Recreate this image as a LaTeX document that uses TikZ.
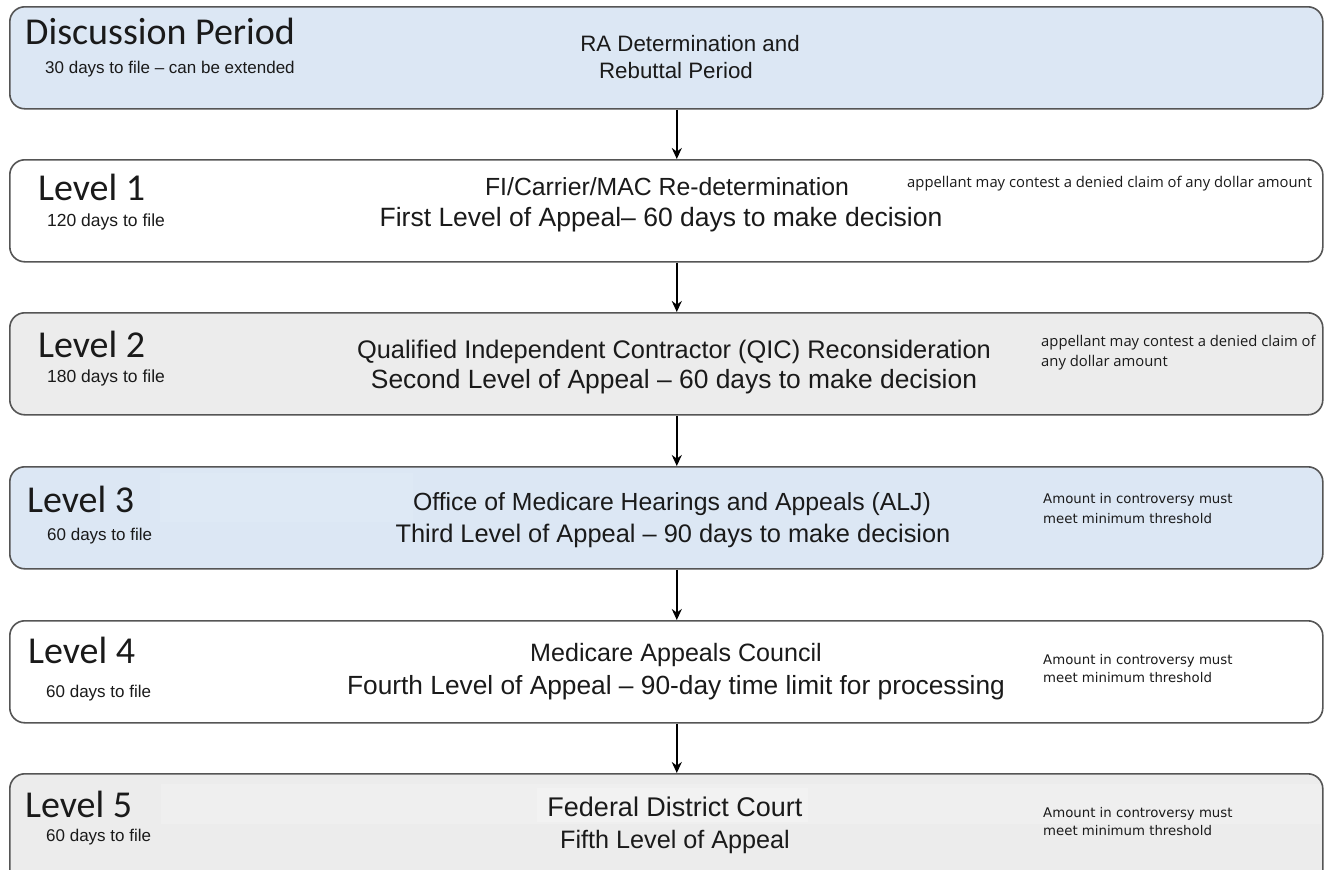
\documentclass[tikz,border=0pt]{standalone}
\usepackage{fontspec}
\setmainfont{Liberation Sans}
\newfontfamily\calfont{Carlito}
\newfontfamily\osfont{Open Sans}
\newfontfamily\dvfont{DejaVu Sans}
\usetikzlibrary{arrows.meta}
\definecolor{boxblue}{HTML}{DCE7F4}
\definecolor{patchblue}{HTML}{DEE9F5}
\definecolor{boxgray}{HTML}{ECECEC}
\definecolor{patchgray}{HTML}{EFEFEF}
\definecolor{patchlight}{HTML}{F2F2F2}
\definecolor{edgegray}{HTML}{555555}
\definecolor{txt}{HTML}{1A1A1A}
\newcommand{\fs}[1]{\fontsize{#1}{#1}\selectfont}
\tikzset{
  stage/.style={draw=edgegray, line width=1.6pt, rounded corners=15pt, minimum width=1313pt, minimum height=102pt, anchor=north west, inner sep=0pt},
  flow/.style={line width=2.4pt, -{Stealth[length=11pt,width=10pt]}},
  lvl/.style={anchor=base west, inner sep=0pt, text=txt, font=\calfont\fs{38}},
  due/.style={anchor=base west, inner sep=0pt, text=txt, font=\fs{17}},
  main/.style={anchor=base, inner sep=0pt, text=txt, font=\fs{25}},
  noteA/.style={anchor=base west, inner sep=0pt, text=txt, font=\osfont\fs{14.8}},
  noteB/.style={anchor=base west, inner sep=0pt, text=txt, font=\dvfont\fs{13.3}},
}
\begin{document}
\begin{tikzpicture}[x=1pt,y=-1pt]
\useasboundingbox (0,0) rectangle (1326,870);
\clip (0,0) rectangle (1326,870);
% boxes
\node[stage, fill=boxblue] (b0) at (9,6) {};
\node[stage, fill=white] (b1) at (9,159) {};
\node[stage, fill=boxgray] (b2) at (9,312) {};
\node[stage, fill=boxblue] (b3) at (9,466) {};
\node[stage, fill=white] (b4) at (9,620) {};
\node[stage, fill=boxgray, minimum height=130pt] (b5) at (9,773) {};
% faint patches
\fill[patchblue] (160,473) rectangle (413,522);
\fill[patchgray] (161,784) rectangle (1321,824);
\fill[patchlight] (537,788) rectangle (808,822);
% arrows
\draw[flow] ([xshift=10.5pt]b0.south) -- ([xshift=10.5pt]b1.north);
\draw[flow] ([xshift=10.5pt]b1.south) -- ([xshift=10.5pt]b2.north);
\draw[flow] ([xshift=10.5pt]b2.south) -- ([xshift=10.5pt]b3.north);
\draw[flow] ([xshift=10.5pt]b3.south) -- ([xshift=10.5pt]b4.north);
\draw[flow] ([xshift=10.5pt]b4.south) -- ([xshift=10.5pt]b5.north);
% box 0
\node[lvl] (t0) at (25,45) {Discussion Period};
\node[due] (d0) at (45,73) {30 days to file – can be extended};
\node[main, font=\fs{22.3}] (m0a) at (690,51) {RA Determination and};
\node[main, font=\fs{22.3}] (m0b) at (676,78) {Rebuttal Period};
% box 1
\node[lvl] (t1) at (38,200) {Level 1};
\node[due, font=\fs{17.5}] (d1) at (47,226) {120 days to file};
\node[main, font=\fs{24.8}] (m1a) at (667,195) {FI/Carrier/MAC Re-determination};
\node[main, font=\fs{26.5}] (m1b) at (661,226) {First Level of Appeal– 60 days to make decision};
\node[noteA] (n1) at (907,187) {appellant may contest a denied claim of any dollar amount};
% box 2
\node[lvl] (t2) at (38,357) {Level 2};
\node[due, font=\fs{17.5}] (d2) at (47,382) {180 days to file};
\node[main, font=\fs{25.4}] (m2a) at (674,358) {Qualified Independent Contractor (QIC) Reconsideration};
\node[main, font=\fs{26.4}] (m2b) at (674,388) {Second Level of Appeal – 60 days to make decision};
\node[noteA] (n2a) at (1041,346) {appellant may contest a denied claim of};
\node[noteA] (n2b) at (1041,366) {any dollar amount};
% box 3
\node[lvl] (t3) at (27,512) {Level 3};
\node[due] (d3) at (47,540) {60 days to file};
\node[main, font=\fs{24.8}] (m3a) at (672,510) {Office of Medicare Hearings and Appeals (ALJ)};
\node[main, font=\fs{25.4}] (m3b) at (673,542) {Third Level of Appeal – 90 days to make decision};
\node[noteB] (n3a) at (1043,503) {Amount in controversy must};
\node[noteB] (n3b) at (1043,523) {meet minimum threshold};
% box 4
\node[lvl] (t4) at (28,663) {Level 4};
\node[due] (d4) at (46,697) {60 days to file};
\node[main, font=\fs{25.1}] (m4a) at (676,661) {Medicare Appeals Council};
\node[main, font=\fs{26.3}] (m4b) at (676,694) {Fourth Level of Appeal – 90-day time limit for processing};
\node[noteB] (n4a) at (1043,664) {Amount in controversy must};
\node[noteB] (n4b) at (1043,682) {meet minimum threshold};
% box 5
\node[lvl] (t5) at (25,817) {Level 5};
\node[due] (d5) at (46,841) {60 days to file};
\node[main, font=\fs{27}] (m5a) at (675,816) {Federal District Court};
\node[main, font=\fs{25.2}] (m5b) at (675,848) {Fifth Level of Appeal};
\node[noteB] (n5a) at (1043,817) {Amount in controversy must};
\node[noteB] (n5b) at (1043,835) {meet minimum threshold};
\end{tikzpicture}
\end{document}
